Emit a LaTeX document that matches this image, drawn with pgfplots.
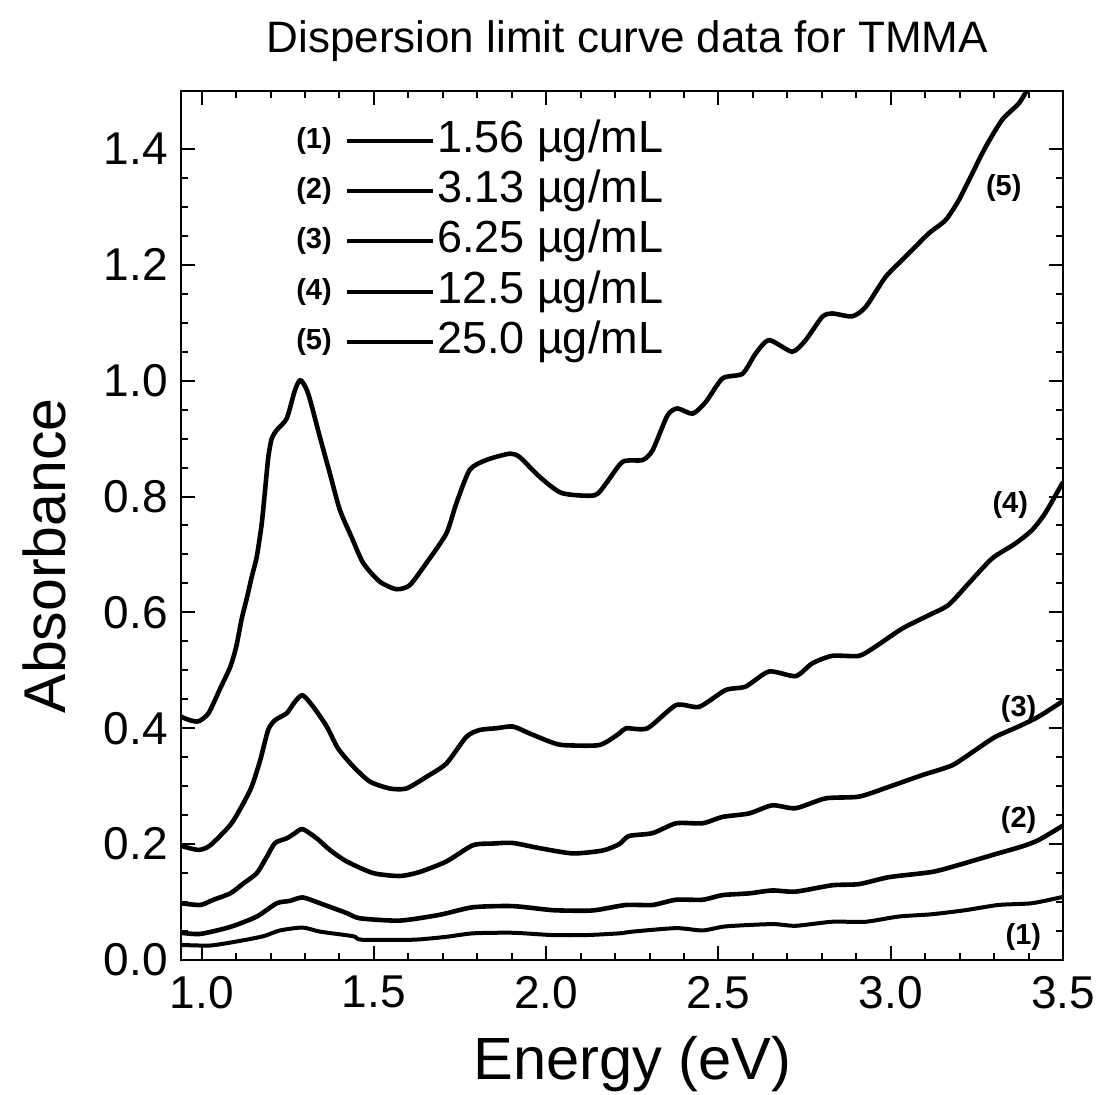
\documentclass[border=0pt]{standalone}
\usepackage{fontspec}
\setmainfont{Liberation Sans}
\usepackage{pgfplots}
\pgfplotsset{compat=1.18}
\begin{document}
\begin{tikzpicture}
\begin{axis}[
  width=441pt, height=434.5pt, scale only axis,
  xmin=0.94, xmax=3.5, ymin=0, ymax=1.5,
  xtick={1.0,1.5,2.0,2.5,3.0,3.5},
  ytick={0,0.2,0.4,0.6,0.8,1.0,1.2,1.4},
  minor x tick num=4, minor y tick num=3,
  tick align=inside, tick pos=both,
  major tick length=7pt, minor tick length=3.5pt,
  every tick/.style={line width=1pt, black},
  axis line style={line width=1.4pt},
  /pgf/number format/assume math mode=true,
  xticklabel style={/pgf/number format/.cd, fixed, fixed zerofill, precision=1, /tikz/.cd, yshift=-4.5pt},
  yticklabel style={/pgf/number format/.cd, fixed, fixed zerofill, precision=1, /tikz/.cd, xshift=-3pt},
  ticklabel style={font=\fontsize{23}{26}\selectfont},
  title={Dispersion limit curve data for TMMA},
  title style={at={(axis description cs:0.506,1.031)}, anchor=base, font=\fontsize{22}{26}\selectfont},
  xlabel={Energy (eV)},
  xlabel style={at={(axis description cs:0.512,-0.137)}, anchor=base, font=\fontsize{29.8}{34}\selectfont},
  ylabel={Absorbance},
  ylabel style={at={(axis description cs:-0.1304,0.465)}, anchor=base, font=\fontsize{29.5}{34}\selectfont},
  curve/.style={black, no markers, line width=2.3pt, smooth, tension=0.4, line join=round},
  clip=true,
]
% (5) 25.0 ug/mL
\addplot[curve] coordinates {
(0.94,0.420)(0.965,0.414)(0.991,0.412)(1.020,0.426)(1.054,0.469)(1.083,0.506)(1.100,0.540)
(1.1164,0.5896)(1.1309,0.6241)(1.1454,0.6615)(1.1599,0.6960)(1.1744,0.7535)(1.1840,0.8110)
(1.1935,0.8685)(1.2034,0.9003)(1.2178,0.9146)(1.247,0.935)(1.271,0.984)(1.287,1.001)
(1.309,0.978)(1.343,0.903)(1.372,0.840)(1.401,0.777)(1.435,0.730)(1.469,0.685)(1.517,0.653)
(1.565,0.640)(1.604,0.647)(1.652,0.685)(1.710,0.736)(1.739,0.788)(1.778,0.846)(1.826,0.863)
(1.894,0.874)(1.923,0.868)(1.981,0.834)(2.045,0.806)(2.140,0.802)(2.174,0.823)(2.222,0.860)
(2.280,0.863)(2.309,0.880)(2.352,0.940)(2.381,0.952)(2.425,0.943)(2.463,0.963)(2.512,1.004)
(2.570,1.012)(2.608,1.047)(2.647,1.070)(2.714,1.050)(2.753,1.070)(2.801,1.110)(2.830,1.116)
(2.888,1.111)(2.927,1.127)(2.985,1.179)(3.043,1.214)(3.110,1.254)(3.159,1.277)(3.197,1.311)
(3.236,1.357)(3.275,1.403)(3.323,1.450)(3.371,1.478)(3.395,1.501)(3.42,1.53)
};
% (4) 12.5 ug/mL
\addplot[curve] coordinates {
(0.94,0.197)(0.991,0.190)(1.025,0.198)(1.083,0.233)(1.116,0.265)(1.145,0.299)(1.170,0.345)
(1.193,0.397)(1.213,0.414)(1.247,0.426)(1.271,0.446)(1.293,0.457)(1.324,0.437)(1.363,0.403)
(1.396,0.365)(1.440,0.334)(1.488,0.308)(1.546,0.296)(1.594,0.296)(1.652,0.316)(1.710,0.339)
(1.768,0.385)(1.807,0.397)(1.855,0.400)(1.903,0.403)(1.952,0.391)(2.010,0.377)(2.048,0.371)
(2.154,0.371)(2.212,0.391)(2.232,0.400)(2.294,0.400)(2.377,0.440)(2.444,0.437)(2.521,0.466)
(2.579,0.472)(2.647,0.498)(2.724,0.490)(2.772,0.512)(2.830,0.525)(2.908,0.525)(2.956,0.541)
(3.033,0.572)(3.110,0.595)(3.168,0.613)(3.226,0.650)(3.294,0.693)(3.362,0.719)(3.410,0.742)
(3.448,0.771)(3.50,0.825)
};
% (3) 6.25 ug/mL
\addplot[curve] coordinates {
(0.94,0.098)(0.996,0.095)(1.034,0.104)(1.083,0.115)(1.121,0.132)(1.160,0.150)(1.189,0.178)
(1.213,0.202)(1.247,0.210)(1.271,0.219)(1.293,0.226)(1.334,0.210)(1.372,0.190)(1.421,0.170)
(1.498,0.150)(1.575,0.145)(1.633,0.152)(1.710,0.170)(1.787,0.198)(1.845,0.201)(1.903,0.202)
(1.981,0.193)(2.077,0.184)(2.164,0.189)(2.212,0.200)(2.240,0.214)(2.309,0.219)(2.377,0.236)
(2.454,0.236)(2.512,0.247)(2.589,0.253)(2.656,0.267)(2.724,0.262)(2.811,0.279)(2.908,0.282)
(2.995,0.299)(3.091,0.319)(3.178,0.336)(3.245,0.362)(3.303,0.385)(3.371,0.403)(3.429,0.420)
(3.50,0.447)
};
% (2) 3.13 ug/mL
\addplot[curve] coordinates {
(0.94,0.047)(0.996,0.045)(1.083,0.057)(1.160,0.075)(1.218,0.098)(1.256,0.102)(1.293,0.108)
(1.343,0.098)(1.421,0.081)(1.459,0.072)(1.575,0.068)(1.691,0.078)(1.787,0.091)(1.903,0.093)
(2.019,0.086)(2.116,0.085)(2.154,0.087)(2.232,0.095)(2.309,0.095)(2.377,0.104)(2.454,0.104)
(2.512,0.112)(2.589,0.115)(2.656,0.120)(2.724,0.118)(2.830,0.129)(2.908,0.131)(2.995,0.143)
(3.120,0.152)(3.197,0.164)(3.294,0.181)(3.381,0.196)(3.429,0.207)(3.50,0.232)
};
% (1) 1.56 ug/mL
\addplot[curve, line width=2pt] coordinates {
(0.94,0.026)(1.025,0.025)(1.102,0.032)(1.179,0.041)(1.227,0.051)(1.293,0.056)(1.343,0.049)
(1.440,0.041)(1.464,0.035)(1.614,0.035)(1.710,0.040)(1.787,0.046)(1.903,0.047)(2.019,0.043)
(2.116,0.043)(2.212,0.046)(2.251,0.049)(2.377,0.055)(2.454,0.051)(2.521,0.058)(2.656,0.062)
(2.724,0.059)(2.830,0.066)(2.927,0.066)(3.023,0.075)(3.120,0.079)(3.217,0.086)(3.313,0.095)
(3.410,0.098)(3.50,0.109)
};
% curve labels
\begin{scope}[every node/.style={font=\fontsize{14.5}{17}\selectfont\bfseries}]
\node at (axis cs:3.328,1.332) {(5)};
\node at (axis cs:3.347,0.785) {(4)};
\node at (axis cs:3.371,0.434) {(3)};
\node at (axis cs:3.371,0.242) {(2)};
\node at (axis cs:3.385,0.040) {(1)};
% legend numbers
\node at (axis cs:1.326,1.414) {(1)};
\node at (axis cs:1.326,1.327) {(2)};
\node at (axis cs:1.326,1.241) {(3)};
\node at (axis cs:1.326,1.153) {(4)};
\node at (axis cs:1.326,1.067) {(5)};
\end{scope}
\begin{scope}[line width=2pt]
\draw (axis cs:1.421,1.414) -- (axis cs:1.672,1.414);
\draw (axis cs:1.421,1.327) -- (axis cs:1.672,1.327);
\draw (axis cs:1.421,1.241) -- (axis cs:1.672,1.241);
\draw (axis cs:1.421,1.153) -- (axis cs:1.672,1.153);
\draw (axis cs:1.421,1.067) -- (axis cs:1.672,1.067);
\end{scope}
\begin{scope}[every node/.style={anchor=west, inner sep=0pt, font=\fontsize{22.5}{26}\selectfont}]
\node at (axis cs:1.682,1.414) {1.56 µg/mL};
\node at (axis cs:1.682,1.327) {3.13 µg/mL};
\node at (axis cs:1.682,1.241) {6.25 µg/mL};
\node at (axis cs:1.682,1.153) {12.5 µg/mL};
\node at (axis cs:1.682,1.067) {25.0 µg/mL};
\end{scope}
\coordinate (ll) at (rel axis cs:0,0);
\end{axis}
\pgfresetboundingbox
\path (ll) ++(-90.5pt,-67.5pt) rectangle ++(551pt,547.5pt);
\end{tikzpicture}
\end{document}
